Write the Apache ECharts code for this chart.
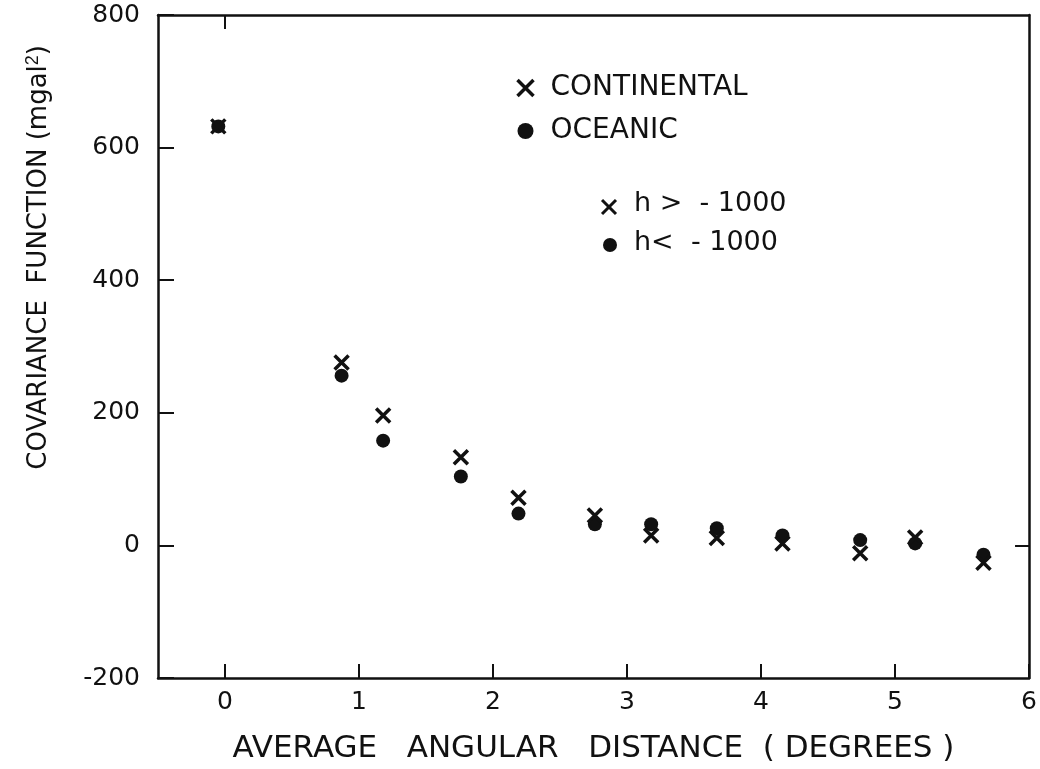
<!DOCTYPE html>
<html>
<head>
<meta charset="utf-8">
<script src="https://cdn.jsdelivr.net/npm/echarts@6/dist/echarts.min.js"></script>
<style>
  html, body { margin: 0; padding: 0; background: #fff; }
  #chart { width: 1040px; height: 769px; }
</style>
</head>
<body>
<div id="chart"></div>
<script>
  // values
  const distContinental = [-0.05, 0.87, 1.18, 1.76, 2.19, 2.76, 3.18, 3.67, 4.16, 4.74, 5.15, 5.66]
  const covContinental = [632, 276, 196, 133, 72, 45, 15, 11, 3, -12, 12, -26]
  const distOceanic = [-0.05, 0.87, 1.18, 1.76, 2.19, 2.76, 3.18, 3.67, 4.16, 4.74, 5.15, 5.66]
  const covOceanic = [632, 256, 158, 104, 48, 32, 32, 26, 15, 8, 3, -14]
  const xTicks = [0, 1, 2, 3, 4, 5, 6]
  const yTicks = [-200, 0, 200, 400, 600, 800]

  const ink = '#111'
  const font = 'DejaVu Sans'
  const crossPath = 'path://M0,0L10,10M10,0L0,10'

  const pairs = (xs, ys) => xs.map((x, i) => [x, ys[i]])

  const myChart = echarts.init(document.getElementById('chart'))
  const option = {
    backgroundColor: '#fff',
    animation: false,
    grid: { left: 158, right: 10, top: 15, bottom: 91 },
    legend: {
      orient: 'vertical',
      left: 510,
      top: 69,
      itemGap: 15,
      itemWidth: 16,
      itemHeight: 16,
      textStyle: { fontFamily: font, fontSize: 28, color: ink, padding: [0, 0, 0, 12] },
      data: [
        { name: 'CONTINENTAL', itemStyle: { color: 'none', borderColor: ink, borderWidth: 3.5 } },
        { name: 'OCEANIC' }
      ]
    },
    xAxis: [
      {
        type: 'value',
        min: -0.5,
        max: 6,
        name: 'AVERAGE   ANGULAR   DISTANCE  ( DEGREES )',
        nameLocation: 'middle',
        nameGap: 55,
        nameTextStyle: { fontFamily: font, fontSize: 31, color: ink },
        axisLine: { onZero: false, lineStyle: { color: ink, width: 2.5 } },
        axisTick: { inside: true, length: 14, customValues: xTicks, lineStyle: { color: ink, width: 2 } },
        axisLabel: { customValues: xTicks, fontFamily: font, fontSize: 25, color: ink, margin: 12 },
        splitLine: { show: false }
      },
      {
        type: 'value',
        position: 'top',
        min: -0.5,
        max: 6,
        axisLine: { onZero: false, lineStyle: { color: ink, width: 2.5 } },
        axisTick: { inside: true, length: 14, customValues: [0], lineStyle: { color: ink, width: 2 } },
        axisLabel: { show: false },
        splitLine: { show: false }
      }
    ],
    yAxis: [
      {
        type: 'value',
        min: -200,
        max: 800,
        interval: 200,
        axisLine: { onZero: false, lineStyle: { color: ink, width: 2.5 } },
        axisTick: { inside: true, length: 16, customValues: yTicks, lineStyle: { color: ink, width: 2 } },
        axisLabel: { customValues: yTicks, fontFamily: font, fontSize: 25, color: ink, margin: 18 },
        splitLine: { show: false }
      },
      {
        type: 'value',
        position: 'right',
        min: -200,
        max: 800,
        interval: 200,
        axisLine: { onZero: false, lineStyle: { color: ink, width: 2.5 } },
        axisTick: { inside: true, length: 14, customValues: [0], lineStyle: { color: ink, width: 2 } },
        axisLabel: { show: false },
        splitLine: { show: false }
      }
    ],
    series: [
      {
        name: 'CONTINENTAL',
        type: 'scatter',
        symbol: crossPath,
        symbolSize: 14,
        itemStyle: { color: 'none', borderColor: ink, borderWidth: 3.5, opacity: 1 },
        data: pairs(distContinental, covContinental),
        z: 3
      },
      {
        name: 'OCEANIC',
        type: 'scatter',
        symbol: 'circle',
        symbolSize: 14,
        itemStyle: { color: ink, opacity: 1 },
        data: pairs(distOceanic, covOceanic),
        z: 2
      }
    ],
    graphic: [
      {
        type: 'text',
        left: 24,
        top: 45,
        rotation: Math.PI / 2,
        style: {
          text: 'COVARIANCE  FUNCTION (mgal{sup|2})',
          fontFamily: font,
          fontSize: 26,
          fill: ink,
          rich: { sup: { fontSize: 18, verticalAlign: 'top', padding: [0, 0, 12, 0] } }
        }
      },
      {
        type: 'line',
        shape: { x1: 602, y1: 200, x2: 616, y2: 214 },
        style: { stroke: ink, lineWidth: 3 }
      },
      {
        type: 'line',
        shape: { x1: 616, y1: 200, x2: 602, y2: 214 },
        style: { stroke: ink, lineWidth: 3 }
      },
      {
        type: 'text',
        x: 634, y: 190,
        style: { text: 'h >  - 1000', fontFamily: font, fontSize: 27, fill: ink }
      },
      {
        type: 'circle',
        shape: { cx: 610, cy: 245, r: 7 },
        style: { fill: ink }
      },
      {
        type: 'text',
        x: 634, y: 229,
        style: { text: 'h<  - 1000', fontFamily: font, fontSize: 27, fill: ink }
      }
    ]
  }
  myChart.setOption(option)
</script>
</body>
</html>
